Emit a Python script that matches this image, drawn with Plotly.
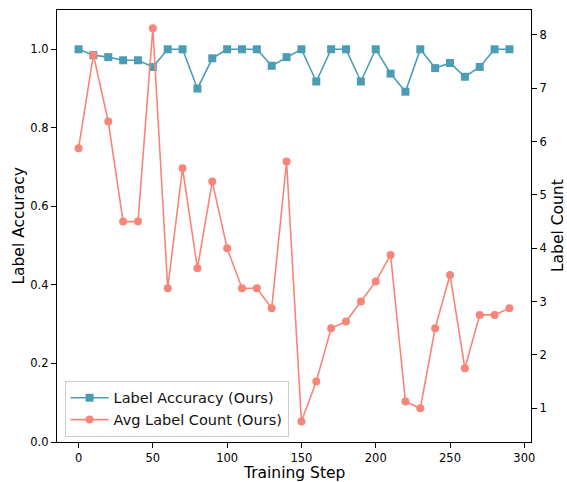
import plotly.graph_objects as go

steps = list(range(0, 300, 10))
label_accuracy = [1.0, 0.985, 0.98, 0.972, 0.972, 0.955, 1.0, 1.0, 0.9, 0.977,
                  1.0, 1.0, 1.0, 0.958, 0.98, 1.0, 0.918, 1.0, 1.0, 0.918,
                  1.0, 0.938, 0.892, 1.0, 0.952, 0.965, 0.93, 0.955, 1.0, 1.0]
avg_label_count = [5.875, 7.625, 6.375, 4.5, 4.5, 8.125, 3.25, 5.5, 3.625, 5.25,
                   4.0, 3.25, 3.25, 2.875, 5.625, 0.75, 1.5, 2.5, 2.625, 3.0,
                   3.375, 3.875, 1.125, 1.0, 2.5, 3.5, 1.75, 2.75, 2.75, 2.875]

blue = "#4a9db5"
salmon = "#f88579"
font_family = "DejaVu Sans"

fig = go.Figure()
fig.add_trace(go.Scatter(
    x=steps, y=label_accuracy, name="Label Accuracy (Ours)",
    mode="lines+markers",
    line=dict(color=blue, width=1.6),
    marker=dict(symbol="square", size=8, color=blue),
    yaxis="y",
))
fig.add_trace(go.Scatter(
    x=steps, y=avg_label_count, name="Avg Label Count (Ours)",
    mode="lines+markers",
    line=dict(color=salmon, width=1.6),
    marker=dict(symbol="circle", size=8, color=salmon),
    yaxis="y2",
))

axis_common = dict(
    showline=True, linecolor="black", linewidth=1.2,
    ticks="outside", ticklen=5, tickwidth=1, tickcolor="black",
    showgrid=False, zeroline=False, automargin=False,
    tickfont=dict(family=font_family, size=11.5, color="black"),
)

title_font = dict(family=font_family, size=15.5, color="black")

fig.update_layout(
    width=567, height=482,
    margin=dict(l=56.5, r=36, t=10, b=39.5),
    paper_bgcolor="white", plot_bgcolor="white",
    font=dict(family=font_family, color="black"),
    showlegend=True,
    legend=dict(
        x=0.016, y=0.012, xanchor="left", yanchor="bottom",
        bordercolor="#cccccc", borderwidth=1, bgcolor="rgba(255,255,255,0.8)",
        font=dict(family=font_family, size=14.5, color="#111111"),
        tracegroupgap=0, itemwidth=38,
    ),
    xaxis=dict(
        range=[-14.5, 304.5], tickmode="array", tickvals=[0, 50, 100, 150, 200, 250, 300],
        mirror=True,
        **axis_common,
    ),
    yaxis=dict(
        range=[0, 1.1], tickmode="array", tickvals=[0, 0.2, 0.4, 0.6, 0.8, 1.0], tickformat=".1f",
        **axis_common,
    ),
    yaxis2=dict(
        range=[0.367, 8.468], overlaying="y", side="right",
        tickmode="array", tickvals=[1, 2, 3, 4, 5, 6, 7, 8],
        **axis_common,
    ),
    annotations=[
        dict(text="Training Step", xref="paper", yref="paper", x=0.5, y=-0.071,
             xanchor="center", yanchor="middle", showarrow=False, font=title_font),
        dict(text="Label Accuracy", xref="paper", yref="paper", x=-0.081, y=0.5,
             xanchor="center", yanchor="middle", textangle=-90, showarrow=False, font=title_font),
        dict(text="Label Count", xref="paper", yref="paper", x=1.057, y=0.5,
             xanchor="center", yanchor="middle", textangle=-90, showarrow=False, font=title_font),
    ],
)

fig.write_html(
    "out.html",
    config={"displayModeBar": False},
    post_script="document.body.style.margin='0';document.body.style.overflow='hidden';",
)
